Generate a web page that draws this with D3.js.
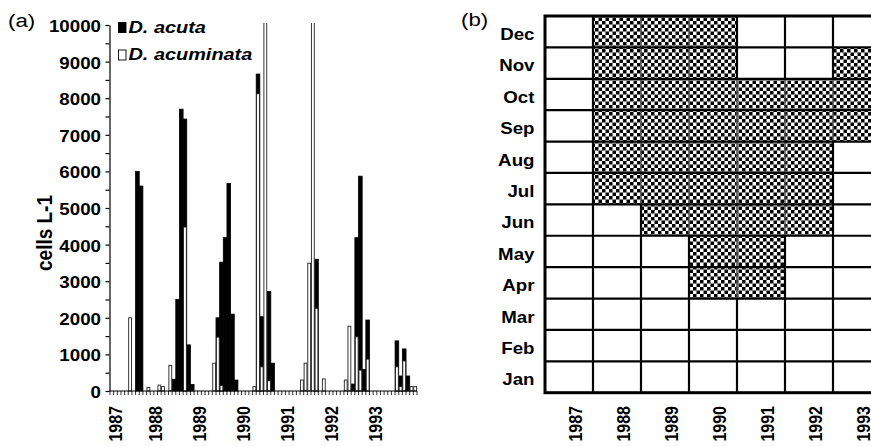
<!DOCTYPE html>
<html>
<head>
<meta charset="utf-8">
<script src="https://cdnjs.cloudflare.com/ajax/libs/d3/7.8.5/d3.min.js"></script>
<style>
  body { margin: 0; background: #fff; }
  svg { display: block; font-family: "Liberation Sans", Arial, sans-serif; }
</style>
</head>
<body>
<div id="chart"></div>
<script>
// ---- data (panel a: monthly cell counts, one row per year Jan..Dec) ----
var years = ["1987", "1988", "1989", "1990", "1991", "1992", "1993"];
var yearLabelMonth = [1, 12, 24, 36, 48, 60, 72];   // month index where each year label sits
var yTicks = [0, 1000, 2000, 3000, 4000, 5000, 6000, 7000, 8000, 9000, 10000];

// D. acuta (black)
var acuta = [].concat(
  [0, 0, 0, 0, 0, 0, 0, 6000, 5600, 0, 0, 0],
  [0, 0, 0, 0, 0, 320, 2500, 7700, 7430, 1260, 180, 0],
  [0, 0, 0, 0, 0, 2000, 3520, 4190, 5670, 2100, 300, 0],
  [0, 0, 0, 0, 8660, 2030, 0, 2720, 760, 0, 0, 0],
  [0, 0, 0, 0, 0, 0, 0, 0, 3600, 0, 0, 0],
  [0, 0, 0, 0, 0, 0, 190, 4190, 5870, 590, 1940, 0],
  [0, 0, 0, 0, 0, 0, 1370, 410, 1150, 410, 0, 0]
);
// D. acuminata (white) - two off-scale peaks run past the top of the axis
var acuminata = [].concat(
  [0, 0, 0, 0, 0, 2000, 0, 0, 0, 0, 100, 0],
  [0, 160, 120, 0, 700, 0, 0, 0, 4480, 0, 0, 0],
  [0, 0, 0, 0, 760, 1470, 150, 0, 0, 0, 0, 0],
  [0, 0, 0, 120, 8120, 660, 12000, 280, 0, 0, 0, 0],
  [0, 0, 0, 0, 300, 760, 3490, 12000, 2260, 0, 330, 0],
  [0, 0, 0, 0, 300, 1770, 0, 1480, 570, 0, 870, 0],
  [0, 0, 0, 0, 0, 0, 660, 120, 820, 0, 120, 120]
);

// ---- data (panel b: months with a bloom, per year) ----
var gridMonths = ["Jan", "Feb", "Mar", "Apr", "May", "Jun", "Jul", "Aug", "Sep", "Oct", "Nov", "Dec"];
var bloomMonths = [
  [],
  ["Jul", "Aug", "Sep", "Oct", "Nov", "Dec"],
  ["Jun", "Jul", "Aug", "Sep", "Oct", "Nov", "Dec"],
  ["Apr", "May", "Jun", "Jul", "Aug", "Sep", "Oct", "Nov", "Dec"],
  ["Apr", "May", "Jun", "Jul", "Aug", "Sep", "Oct"],
  ["Jun", "Jul", "Aug", "Sep", "Oct"],
  ["Sep", "Oct", "Nov"]
];

// the original figure is a little stretched sideways, so text is too
var SX = 1.17;

var svg = d3.select("#chart").append("svg")
  .attr("width", 871)
  .attr("height", 446);

var defs = svg.append("defs");
var pat = defs.append("pattern")
  .attr("id", "checker")
  .attr("patternUnits", "userSpaceOnUse")
  .attr("width", 7).attr("height", 7);
pat.append("rect").attr("width", 7).attr("height", 7).attr("fill", "#fff");
pat.append("rect").attr("x", 0).attr("y", 0).attr("width", 3.5).attr("height", 3.5).attr("fill", "#000");
pat.append("rect").attr("x", 3.5).attr("y", 3.5).attr("width", 3.5).attr("height", 3.5).attr("fill", "#000");

defs.append("clipPath").attr("id", "plotClip")
  .append("rect").attr("x", 100).attr("y", 23).attr("width", 330).attr("height", 380);

// helper: stretched text at a point
function label(g, x, y, txt, rot) {
  return g.append("g")
    .attr("transform", "translate(" + x + "," + y + ") scale(" + SX + ",1)" + (rot ? " rotate(-90)" : ""))
    .append("text").text(txt);
}

/* ================= panel (a) ================= */
var a = svg.append("g");
var months = d3.range(acuta.length);

var x = d3.scaleBand().domain(months).range([110, 417]).padding(0);
var y = d3.scaleLinear().domain([0, 10000]).range([391, 25]);

// bars: acuta behind, acuminata drawn in front
var bars = a.append("g").attr("clip-path", "url(#plotClip)");
bars.selectAll("rect.acuta")
  .data(months.filter(function(i) { return acuta[i] > 0; }))
  .enter().append("rect")
  .attr("class", "acuta")
  .attr("x", function(i) { return x(i); })
  .attr("y", function(i) { return y(acuta[i]); })
  .attr("width", x.bandwidth())
  .attr("height", function(i) { return y(0) - y(acuta[i]); })
  .attr("fill", "#000")
  .attr("stroke", "#000")
  .attr("stroke-width", 0.8);

bars.selectAll("rect.acuminata")
  .data(months.filter(function(i) { return acuminata[i] > 0; }))
  .enter().append("rect")
  .attr("class", "acuminata")
  .attr("x", function(i) { return x(i) + 0.4; })
  .attr("y", function(i) { return y(acuminata[i]); })
  .attr("width", x.bandwidth() - 0.8)
  .attr("height", function(i) { return y(0) - y(acuminata[i]); })
  .attr("fill", "#fff")
  .attr("stroke", "#222")
  .attr("stroke-width", 0.9);

// y axis with a tick every 500
var yAxis = d3.axisLeft(y).tickValues(d3.range(0, 10001, 500)).tickSize(4).tickFormat("").tickSizeOuter(0);
a.append("g").attr("transform", "translate(109.5,0)").call(yAxis)
  .call(function(g) { g.selectAll("path,line").attr("stroke", "#000").attr("stroke-width", 1.2); });

yTicks.forEach(function(v) {
  label(a, 101, y(v) + 7, d3.format("d")(v))
    .attr("text-anchor", "end")
    .attr("font-size", 16)
    .attr("font-weight", "bold");
});

// x axis: month ticks
var xAxisG = a.append("g").attr("transform", "translate(0,391)");
xAxisG.append("line").attr("x1", 109.5).attr("x2", 417).attr("stroke", "#000").attr("stroke-width", 1.2);
xAxisG.selectAll("line.tick")
  .data(months.concat([acuta.length]))
  .enter().append("line")
  .attr("x1", function(i) { return i < acuta.length ? x(i) : x.range()[1]; })
  .attr("x2", function(i) { return i < acuta.length ? x(i) : x.range()[1]; })
  .attr("y1", 0).attr("y2", 4)
  .attr("stroke", "#000").attr("stroke-width", 0.8);

years.forEach(function(yr, k) {
  var cx = x(yearLabelMonth[k]) + x.bandwidth() / 2;
  label(a, cx, 406, yr, true)
    .attr("text-anchor", "end")
    .attr("dy", "0.36em")
    .attr("font-size", 16)
    .attr("font-weight", "bold");
});

// y axis title
label(a, 44, 233, "cells L-1", true)
  .attr("text-anchor", "middle")
  .attr("dy", "0.36em")
  .attr("font-size", 19)
  .attr("font-weight", "bold");

// legend
var legendItems = [["D. acuta", "#000"], ["D. acuminata", "#fff"]];
legendItems.forEach(function(d, k) {
  var base = 32.5 + k * 27.5;
  a.append("rect")
    .attr("x", 118.5).attr("y", base - 10).attr("width", 7.5).attr("height", 10)
    .attr("fill", d[1]).attr("stroke", "#000").attr("stroke-width", 0.9);
  label(a, 128.5, base, d[0])
    .attr("font-size", 17)
    .attr("font-weight", "bold")
    .attr("font-style", "italic");
});

label(a, 8, 27, "(a)").attr("font-size", 19);

/* ================= panel (b) ================= */
var b = svg.append("g");
var gx = d3.scaleBand().domain(years).range([545, 545 + 48 * years.length]);
var gy = d3.scaleBand().domain(gridMonths.slice().reverse()).range([16, 392.7]);

function isOn(yr, m) {
  var k = years.indexOf(yr);
  return k >= 0 && bloomMonths[k].indexOf(m) >= 0;
}

var cells = [];
years.forEach(function(yr) {
  gridMonths.forEach(function(m) {
    cells.push({ year: yr, month: m, on: isOn(yr, m) });
  });
});

b.selectAll("rect.cell")
  .data(cells)
  .enter().append("rect")
  .attr("class", "cell")
  .attr("x", function(d) { return gx(d.year); })
  .attr("y", function(d) { return gy(d.month); })
  .attr("width", gx.bandwidth())
  .attr("height", gy.bandwidth())
  .attr("fill", function(d) { return d.on ? "url(#checker)" : "#fff"; });

// vertical separators: lighter between two patterned cells, black otherwise
var vsegs = [];
cells.forEach(function(d) {
  var k = years.indexOf(d.year);
  if (k === 0) return;
  vsegs.push({ x: gx(d.year), month: d.month, soft: d.on && isOn(years[k - 1], d.month) });
});
b.selectAll("line.v")
  .data(vsegs)
  .enter().append("line")
  .attr("x1", function(d) { return d.x; })
  .attr("x2", function(d) { return d.x; })
  .attr("y1", function(d) { return gy(d.month); })
  .attr("y2", function(d) { return gy(d.month) + gy.bandwidth(); })
  .attr("stroke", function(d) { return d.soft ? "#555" : "#000"; })
  .attr("stroke-width", function(d) { return d.soft ? 1.6 : 2.2; });

// horizontal separators
b.selectAll("line.h")
  .data(gridMonths.slice(1))
  .enter().append("line")
  .attr("x1", 545).attr("x2", 545 + 48 * years.length)
  .attr("y1", function(m) { return gy(m) + gy.bandwidth(); })
  .attr("y2", function(m) { return gy(m) + gy.bandwidth(); })
  .attr("stroke", "#000").attr("stroke-width", 2.2);

b.append("rect")
  .attr("x", 545).attr("y", 16)
  .attr("width", 48 * years.length).attr("height", 392.7 - 16)
  .attr("fill", "none").attr("stroke", "#000").attr("stroke-width", 3);

gridMonths.forEach(function(m) {
  label(b, 534.5, gy(m) + gy.bandwidth() / 2 + 8.3, m)
    .attr("text-anchor", "end")
    .attr("font-size", 16)
    .attr("font-weight", "bold");
});

years.forEach(function(yr) {
  label(b, gx(yr) + gx.bandwidth() / 2 + 6, 406, yr, true)
    .attr("text-anchor", "end")
    .attr("dy", "0.36em")
    .attr("font-size", 16)
    .attr("font-weight", "bold");
});

label(b, 461, 26, "(b)").attr("font-size", 19);
</script>
</body>
</html>
